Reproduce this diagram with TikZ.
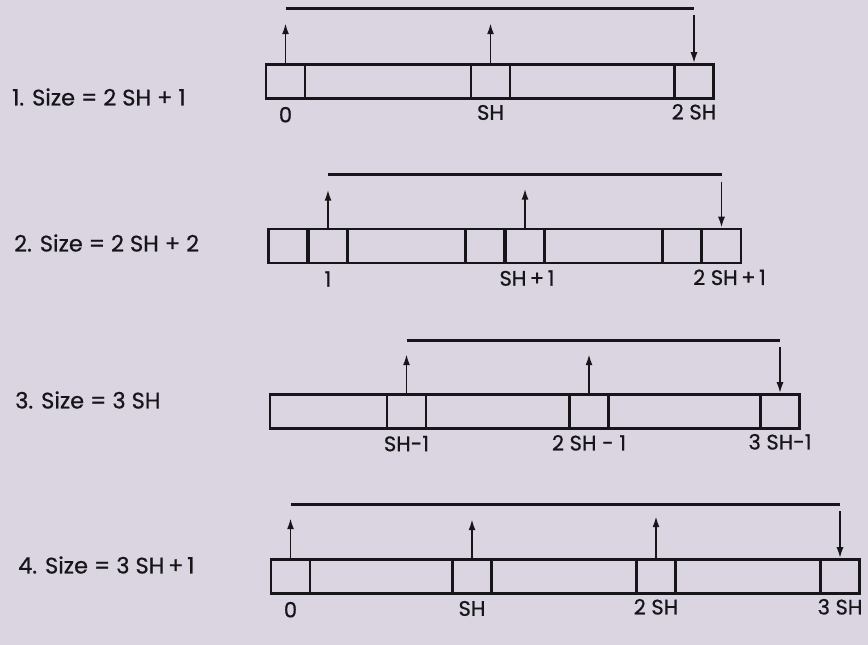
\documentclass[tikz,border=0pt]{standalone}
\usepackage{fontspec}
\setmainfont{Poppins}[FakeBold=0.7]
\usetikzlibrary{arrows.meta,calc,positioning}
\definecolor{paper}{RGB}{218,213,224}
\definecolor{ink}{RGB}{22,22,26}
\tikzstyle{arrow} = [draw=ink, line width=1.8pt, -{Latex[length=11pt,width=7pt]}]
\tikzstyle{topline} = [draw=ink, line width=2.6pt]
\tikzstyle{bar} = [rectangle, draw=ink, line width=2.6pt, minimum height=34pt, inner sep=0pt]
\tikzstyle{cell} = [rectangle, draw=ink, line width=2.6pt, minimum width=39pt, minimum height=34pt, inner sep=0pt]
\tikzstyle{lbl} = [font={\fontsize{21}{24}\selectfont}, text=ink, inner sep=0pt]
\tikzstyle{sizelbl} = [lbl, anchor=west, font={\fontsize{22.5}{26}\selectfont}]

\begin{document}
\begin{tikzpicture}[x=1pt, y=-1pt]
      \fill[paper] (0,0) rectangle (868,645);
      \useasboundingbox (0,0) rectangle (868,645);
      % 1. size = 2 SH + 1
      \node [sizelbl] (size1) at (12,97) {1. Size = 2 SH + 1};
      \node [bar, minimum width=447pt] (bar1) at (489.5,81.5) {};
      \node [cell] (c1a) at (285.5,81.5) {};
      \node [cell] (c1b) at (490.5,81.5) {};
      \node [cell] (c1c) at (694,81.5) {};
      \node [lbl, below=7pt of c1a] (l1a) {0};
      \node [lbl, below=5pt of c1b] (l1b) {SH};
      \node [lbl, below=4pt of c1c] (l1c) {2 SH};
      \coordinate (t1a) at ($(c1a.north)+(0,-55)$);
      \coordinate (t1c) at (c1c.north |- t1a);
      \path [topline] (t1a) -- (t1c);
      \path [arrow] (c1a.north) -- ($(t1a)+(0,15)$);
      \path [arrow] (c1b.north) -- ($(c1b.north |- t1a)+(0,15)$);
      \path [arrow] ($(t1c)+(0,7)$) -- (c1c.north);
      % 2. size = 2 SH + 2
      \node [sizelbl] (size2) at (14,243) {2. Size = 2 SH + 2};
      \node [bar, minimum width=473pt] (bar2) at (504.5,246) {};
      \node [cell] (c2a) at (288,246) {};
      \node [cell] (c2b) at (328,246) {};
      \node [cell] (c2c) at (485,246) {};
      \node [cell] (c2d) at (525,246) {};
      \node [cell] (c2e) at (682,246) {};
      \node [cell] (c2f) at (721.5,246) {};
      \node [lbl, below=7pt of c2b] (l2b) {1};
      \node [lbl, below=6pt of c2d, xshift=2pt] (l2d) {SH\,+\,1};
      \node [lbl, below=5pt of c2f, xshift=8pt] (l2f) {2 SH\,+\,1};
      \coordinate (t2b) at ($(c2b.north)+(0,-53)$);
      \coordinate (t2f) at (c2f.north |- t2b);
      \path [topline] (t2b) -- (t2f);
      \path [arrow] (c2b.north) -- ($(t2b)+(0,15)$);
      \path [arrow] (c2d.north) -- ($(c2d.north |- t2b)+(0,14)$);
      \path [arrow] ($(t2f)+(0,7)$) -- (c2f.north);
      % 3. size = 3 SH
      \node [sizelbl] (size3) at (15,400) {3. Size = 3 SH};
      \node [bar, minimum width=530pt] (bar3) at (535,411.5) {};
      \node [cell] (c3a) at (406.5,411.5) {};
      \node [cell] (c3b) at (589,411.5) {};
      \node [cell] (c3c) at (780,411.5) {};
      \node [lbl, below=6pt of c3a] (l3a) {SH-1};
      \node [lbl, below=5pt of c3b] (l3b) {2 SH - 1};
      \node [lbl, below=4pt of c3c] (l3c) {3 SH-1};
      \coordinate (t3a) at ($(c3a.north)+(0,-53)$);
      \coordinate (t3c) at (c3c.north |- t3a);
      \path [topline] (t3a) -- (t3c);
      \path [arrow] (c3a.north) -- ($(t3a)+(0,14)$);
      \path [arrow] (c3b.north) -- ($(c3b.north |- t3a)+(0,14)$);
      \path [arrow] ($(t3c)+(0,7)$) -- (c3c.north);
      % 4. size = 3 SH + 1
      \node [sizelbl] (size4) at (18,565) {4. Size = 3 SH\,+\,1};
      \node [bar, minimum width=589pt] (bar4) at (565.5,576.5) {};
      \node [cell] (c4a) at (290.5,576.5) {};
      \node [cell] (c4b) at (472,576.5) {};
      \node [cell] (c4c) at (656,576.5) {};
      \node [cell] (c4d) at (840,576.5) {};
      \node [lbl, below=7pt of c4a] (l4a) {0};
      \node [lbl, below=6pt of c4b] (l4b) {SH};
      \node [lbl, below=4pt of c4c] (l4c) {2 SH};
      \node [lbl, below=4pt of c4d] (l4d) {3 SH};
      \coordinate (t4a) at ($(c4a.north)+(0,-54)$);
      \coordinate (t4d) at (c4d.north |- t4a);
      \path [topline] (t4a) -- (t4d);
      \path [arrow] (c4a.north) -- ($(t4a)+(0,14)$);
      \path [arrow] (c4b.north) -- ($(c4b.north |- t4a)+(0,15)$);
      \path [arrow] (c4c.north) -- ($(c4c.north |- t4a)+(0,12)$);
      \path [arrow] ($(t4d)+(0,7)$) -- (c4d.north);
    \end{tikzpicture}
\end{document}
